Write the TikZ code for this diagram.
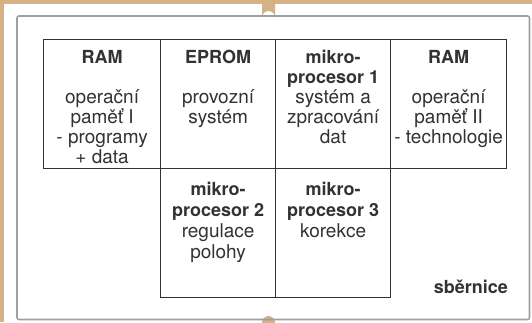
\documentclass[tikz,border=0pt]{standalone}
\usepackage{fontspec}
\setmainfont{TeX Gyre Heros}
\usetikzlibrary{positioning}
\definecolor{tan}{RGB}{213,178,134}
\definecolor{ink}{RGB}{50,50,50}
\newcommand\hd[1]{{\fontsize{18}{20}\selectfont\bfseries #1}}
\tikzset{
  cell/.style={draw=ink,line width=1.2pt,anchor=north west,inner sep=0pt},
  txt/.style={text=ink,align=center,anchor=north,inner sep=0pt,
    font=\fontsize{19}{20}\selectfont},
  txtlow/.style={txt,font=\fontsize{19}{21}\selectfont}
}
\begin{document}
\begin{tikzpicture}[x=1pt,y=-1pt]
\useasboundingbox (0,0) rectangle (532,322);
% podklad
\fill[white] (0,0) rectangle (532,322);
\fill[tan] (0,0) rectangle (532,4.3);
\fill[tan] (0,0) rectangle (4,322);
\fill[tan] (262,0) -- (262,17.5) arc[start angle=180,end angle=360,radius=6.5] -- (275,0) -- cycle;
\begin{scope}
\clip (0,0) rectangle (532,322);
\fill[tan] (268.5,322.5) circle (6.5);
\end{scope}
% ramecek
\draw[gray!75,line width=1.6pt,rounded corners=2pt] (17,16) rectangle (529.5,319.5);
% bloky
\node[cell,minimum width=117pt,minimum height=129pt] (ram1) at (43,39) {};
\node[cell,minimum width=115pt,minimum height=129pt] (eprom) at (160,39) {};
\node[cell,minimum width=115pt,minimum height=129pt] (mp1) at (275,39) {};
\node[cell,minimum width=116pt,minimum height=129pt] (ram2) at (390,39) {};
\node[cell,minimum width=115pt,minimum height=129pt] (mp2) at (160,168) {};
\node[cell,minimum width=115pt,minimum height=129pt] (mp3) at (275,168) {};
% texty
\node[txt] (tram1) at ([yshift=-11pt]ram1.north) {\hd{RAM}\\[20pt]operační\\paměť I\\- programy\\+ data};
\node[txt] (teprom) at ([yshift=-11pt]eprom.north) {\hd{EPROM}\\[20pt]provozní\\systém};
\node[txt] (tmp1) at ([yshift=-11pt]mp1.north) {\hd{mikro-}\\\hd{procesor 1}\\systém a\\zpracování\\dat};
\node[txt] (tram2) at ([yshift=-11pt]ram2.north) {\hd{RAM}\\[20pt]operační\\paměť II\\- technologie};
\node[txtlow] (tmp2) at ([yshift=-14pt]mp2.north) {\hd{mikro-}\\\hd{procesor 2}\\regulace\\polohy};
\node[txtlow] (tmp3) at ([yshift=-14pt]mp3.north) {\hd{mikro-}\\\hd{procesor 3}\\korekce};
\node[txt,anchor=base east] (bus) at (508,293) {\hd{sběrnice}};
\end{tikzpicture}
\end{document}
